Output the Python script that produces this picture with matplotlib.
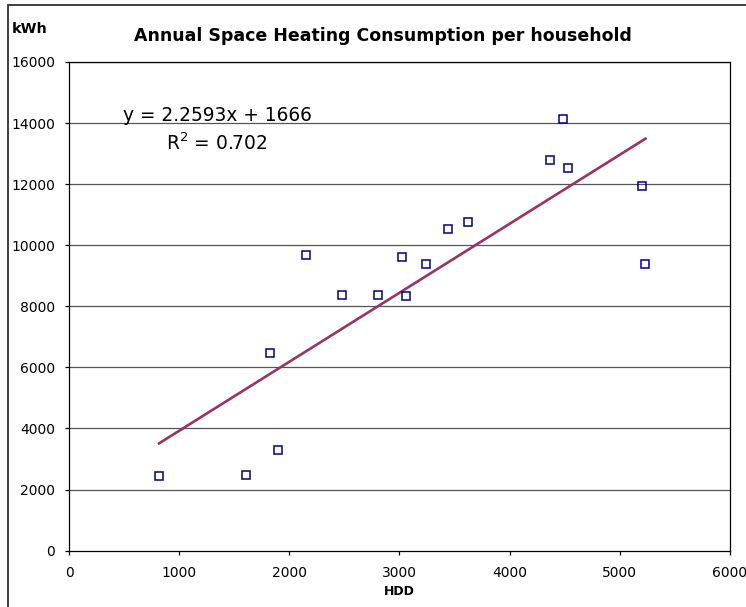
import matplotlib.pyplot as plt
import matplotlib.patches as mpatches
import numpy as np

# data
hdd = [817, 1606, 1824, 1894, 2154, 2475, 2804, 3025, 3055, 3243,
       3439, 3618, 4362, 4486, 4528, 5203, 5233]
kwh = [2430, 2480, 6480, 3290, 9670, 8370, 8370, 9620, 8330, 9380,
       10520, 10770, 12780, 14120, 12530, 11930, 9380]
slope = 2.2593
intercept = 1666
r_squared = 0.702

x_ticks = [0, 1000, 2000, 3000, 4000, 5000, 6000]
y_ticks = [0, 2000, 4000, 6000, 8000, 10000, 12000, 14000, 16000]

plt.rcParams['font.family'] = 'DejaVu Sans'

fig = plt.figure(figsize=(7.46, 6.07), dpi=100)
ax = fig.add_axes([0.0925, 0.0928, 0.886, 0.8051])

# outer chart frame (partly cut off at right/bottom)
frame = mpatches.Rectangle((8 / 746, -0.2), 1.5, 1.2 - 5 / 607, transform=fig.transFigure,
                           fill=False, edgecolor='#303030', linewidth=1.3, clip_on=False)
fig.patches.append(frame)

for yv in y_ticks[1:]:
    ax.axhline(yv, color='#555555', linewidth=0.9, zorder=1)

ax.plot(hdd, kwh, linestyle='none', marker='s', markersize=5.8,
        markerfacecolor='none', markeredgecolor='#000080', markeredgewidth=1.1, zorder=3)

x_fit = np.array([min(hdd), max(hdd)])
ax.plot(x_fit, slope * x_fit + intercept, color='#993366', linewidth=1.9, zorder=2)

ax.set_xlim(0, 6000)
ax.set_ylim(0, 16000)
ax.set_xticks(x_ticks)
ax.set_yticks(y_ticks)
ax.set_xticklabels([str(v) for v in x_ticks])
ax.set_yticklabels([str(v) for v in y_ticks])
ax.tick_params(direction='out', length=3, width=0.9, labelsize=10, colors='black')
ax.tick_params(axis='x', pad=8)
ax.tick_params(axis='y', pad=7)
for s in ax.spines.values():
    s.set_color('black')
    s.set_linewidth(0.9)

ax.set_xlabel('HDD', fontsize=9, fontweight='bold')
ax.xaxis.set_label_coords(0.5, -0.071)

ax.text(1348, 14070, f'y = {slope}x + {intercept}', fontsize=13.4,
        ha='center', va='baseline')
ax.text(1343, 13120, f'R$^{{2}}$ = {r_squared}', fontsize=13.4,
        ha='center', va='baseline')

fig.text(383 / 746, 1 - 41 / 607, 'Annual Space Heating Consumption per household',
         fontsize=12.5, fontweight='bold', ha='center', va='baseline')
fig.text(12 / 746, 1 - 33 / 607, 'kWh', fontsize=10.4, fontweight='bold',
         ha='left', va='baseline')

fig.savefig('out.png', dpi=100)
